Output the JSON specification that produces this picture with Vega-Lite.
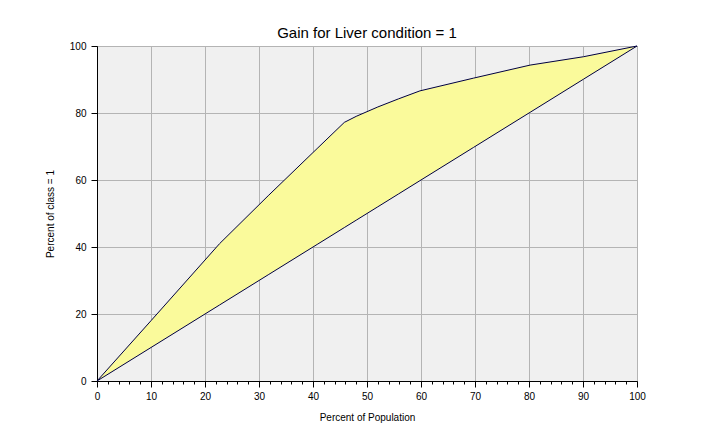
{
  "$schema": "https://vega.github.io/schema/vega-lite/v6.json",
  "width": 540,
  "height": 335,
  "autosize": {"type": "none"},
  "padding": {"left": 97, "top": 46, "right": 69, "bottom": 55},
  "background": "white",
  "title": {"text": "Gain for Liver condition = 1", "font": "Liberation Sans", "fontSize": 15, "fontWeight": "normal", "color": "black", "offset": 0, "anchor": "middle"},
  "config": {
    "view": {"fill": "#F0F0F0", "stroke": "black", "strokeWidth": 1},
    "axis": {"labelFont": "Liberation Sans", "titleFont": "Liberation Sans", "labelFontSize": 10, "titleFontSize": 10, "titleFontWeight": "normal", "labelColor": "black", "titleColor": "black", "domainColor": "black", "tickColor": "black", "gridColor": "#B4B4B4", "gridWidth": 1, "gridOpacity": 1}
  },
  "data": {"values": [
    {"x": 0, "gain": 0, "base": 0},
    {"x": 10, "gain": 18, "base": 10},
    {"x": 22.7, "gain": 41, "base": 22.7},
    {"x": 31.7, "gain": 55.3, "base": 31.7},
    {"x": 40.9, "gain": 69.6, "base": 40.9},
    {"x": 45.8, "gain": 77.2, "base": 45.8},
    {"x": 48, "gain": 79, "base": 48},
    {"x": 52, "gain": 81.8, "base": 52},
    {"x": 55.8, "gain": 84.2, "base": 55.8},
    {"x": 59.8, "gain": 86.6, "base": 59.8},
    {"x": 69.7, "gain": 90.4, "base": 69.7},
    {"x": 80.2, "gain": 94.3, "base": 80.2},
    {"x": 90.1, "gain": 96.8, "base": 90.1},
    {"x": 100, "gain": 100, "base": 100}
  ]},
  "encoding": {
    "x": {"field": "x", "type": "quantitative", "scale": {"domain": [0, 100], "nice": false},
      "axis": {"title": "Percent of Population", "values": [0,2,4,6,8,10,12,14,16,18,20,22,24,26,28,30,32,34,36,38,40,42,44,46,48,50,52,54,56,58,60,62,64,66,68,70,72,74,76,78,80,82,84,86,88,90,92,94,96,98,100],
        "labelExpr": "datum.value % 10 === 0 ? datum.label : ''", "labelOverlap": false, "labelFlush": false, "labelPadding": 4, "titlePadding": 11,
        "tickSize": {"condition": {"test": "datum.value % 10 === 0", "value": 6}, "value": 3},
        "gridOpacity": {"condition": {"test": "datum.value % 10 === 0", "value": 1}, "value": 0}}}
  },
  "layer": [
    {"mark": {"type": "area", "color": "#FAFA9B", "opacity": 1},
     "encoding": {
       "y": {"field": "gain", "type": "quantitative", "scale": {"domain": [0, 100], "nice": false},
         "axis": {"title": "Percent of class = 1", "values": [0,10,20,30,40,50,60,70,80,90,100],
           "labelExpr": "datum.value % 20 === 0 ? datum.label : ''", "labelOverlap": false, "labelFlush": false, "labelPadding": 5, "titlePadding": 14,
           "tickSize": {"condition": {"test": "datum.value % 20 === 0", "value": 6}, "value": 3},
           "gridOpacity": {"condition": {"test": "datum.value % 20 === 0", "value": 1}, "value": 0}}},
       "y2": {"field": "base"}
     }},
    {"mark": {"type": "line", "color": "#000040", "strokeWidth": 1},
     "encoding": {"y": {"field": "gain", "type": "quantitative"}}},
    {"mark": {"type": "line", "color": "#000040", "strokeWidth": 1},
     "encoding": {"y": {"field": "base", "type": "quantitative"}}}
  ]
}
